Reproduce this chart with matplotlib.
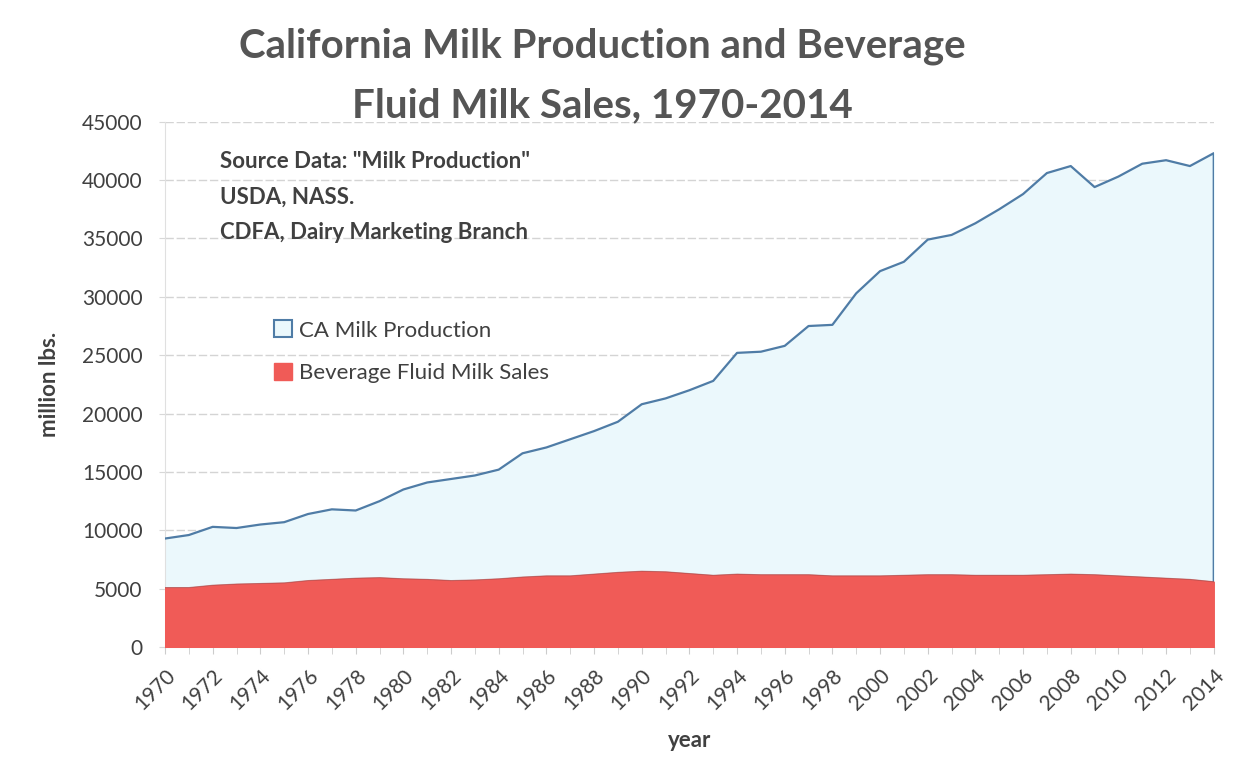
import numpy as np
import matplotlib
matplotlib.use('Agg')
import matplotlib.pyplot as plt
from matplotlib.patches import Patch

plt.rcParams['font.family'] = ['Lato', 'DejaVu Sans']

# data (million lbs.)
years = list(range(1970, 2015))
production = [9300, 9600, 10300, 10200, 10500, 10700, 11400, 11800, 11700, 12500,
              13500, 14100, 14400, 14700, 15200, 16600, 17100, 17800, 18500, 19300,
              20800, 21300, 22000, 22800, 25200, 25300, 25800, 27500, 27600, 30300,
              32200, 33000, 34900, 35300, 36300, 37500, 38800, 40600, 41200, 39400,
              40300, 41400, 41700, 41200, 42300]
fluid_sales = [5100, 5100, 5300, 5400, 5450, 5500, 5700, 5800, 5900, 5950,
               5850, 5800, 5700, 5750, 5850, 6000, 6100, 6100, 6250, 6400,
               6500, 6450, 6300, 6150, 6250, 6200, 6200, 6200, 6100, 6100,
               6100, 6150, 6200, 6200, 6150, 6150, 6150, 6200, 6250, 6200,
               6100, 6000, 5900, 5800, 5600]
tick_years = list(range(1970, 2015, 2))

text_col = '#404040'
blue_fill = '#ebf8fc'
blue_line = '#4f7ca6'
red_fill = '#f05b57'

fig = plt.figure(figsize=(12.5, 7.75), dpi=100)
ax = fig.add_axes([0.132, 0.165, 0.839, 0.678])

x = np.array(years)
ax.fill_between(x, 0, production, color=blue_fill, zorder=2)
# outline of the production area (top and right edge)
ax.plot(list(x) + [2014], production + [0], color=blue_line, lw=1.6, zorder=3)
ax.fill_between(x, 0, fluid_sales, color=red_fill, zorder=4)
ax.plot(x, fluid_sales, color='#a04848', lw=0.8, alpha=0.6, zorder=5)

ax.set_xlim(1970, 2014)
ax.set_ylim(0, 45000)
ax.set_yticks(range(0, 45001, 5000))
ax.set_xticks(tick_years)
ax.set_xticklabels([str(y) for y in tick_years], rotation=45, ha='right',
                   rotation_mode='anchor')
ax.set_xticks(years, minor=True)
ax.tick_params(axis='y', length=4, color='#d8d8d8', labelsize=15,
               labelcolor=text_col, pad=12)
ax.tick_params(axis='x', which='both', length=5, color='#cccccc',
               labelsize=15, labelcolor=text_col, pad=8)
ax.grid(axis='y', color='#d4d4d4', lw=1, ls=(0, (6, 2)), zorder=1)
for s in ['top', 'right']:
    ax.spines[s].set_visible(False)
ax.spines['bottom'].set_color('#cccccc')
ax.spines['left'].set_color('#e0e0e0')

ax.set_ylabel('million lbs.', fontsize=16, fontweight='bold', color=text_col, labelpad=16)
ax.set_xlabel('year', fontsize=16, fontweight='bold', color=text_col, labelpad=12)

fig.text(0.482, 0.94, 'California Milk Production and Beverage',
         ha='center', va='center', fontsize=29, fontweight='bold', color='#555555')
fig.text(0.482, 0.863, 'Fluid Milk Sales, 1970-2014',
         ha='center', va='center', fontsize=29, fontweight='bold', color='#555555')

for i, line in enumerate(['Source Data: "Milk Production"', 'USDA, NASS.',
                          'CDFA, Dairy Marketing Branch']):
    ax.text(0.052, 0.925 - i * 0.068, line, transform=ax.transAxes, fontsize=16,
            fontweight='bold', color=text_col, va='center', zorder=6)

handles = [Patch(facecolor=blue_fill, edgecolor=blue_line, lw=1.5, label='CA Milk Production'),
           Patch(facecolor=red_fill, edgecolor=red_fill, label='Beverage Fluid Milk Sales')]
leg = ax.legend(handles=handles, loc='upper left', bbox_to_anchor=(0.085, 0.66),
                frameon=False, fontsize=16, labelcolor=text_col,
                handlelength=0.8, handleheight=0.8, handletextpad=0.3, labelspacing=1.0)
leg.set_zorder(6)

fig.savefig('out.png', dpi=100)
